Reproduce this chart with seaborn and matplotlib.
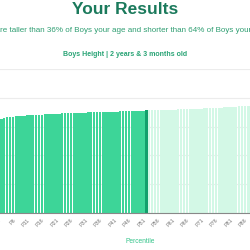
import matplotlib
matplotlib.use("Agg")
import matplotlib.pyplot as plt
import seaborn as sns
import pandas as pd

# ---- data ----
percentiles = [f"P{i}" for i in range(1, 100)]
heights = [
    81.1, 82.0, 82.6, 83.0, 83.4, 83.7, 83.9, 84.2, 84.4, 84.6,
    84.8, 84.9, 85.1, 85.2, 85.4, 85.5, 85.7, 85.8, 85.9, 86.0,
    86.1, 86.3, 86.4, 86.5, 86.6, 86.7, 86.8, 86.9, 87.0, 87.1,
    87.2, 87.3, 87.3, 87.4, 87.5, 87.6, 87.7, 87.8, 87.9, 88.0,
    88.0, 88.1, 88.2, 88.3, 88.4, 88.5, 88.6, 88.6, 88.7, 88.8,
    88.9, 89.0, 89.0, 89.1, 89.2, 89.3, 89.4, 89.5, 89.6, 89.6,
    89.7, 89.8, 89.9, 90.0, 90.1, 90.2, 90.3, 90.4, 90.5, 90.6,
    90.7, 90.8, 90.9, 91.0, 91.1, 91.3, 91.4, 91.5, 91.7, 91.8,
    92.0, 92.1, 92.3, 92.5, 92.6, 92.8, 93.0, 93.2, 93.4, 93.6,
    93.8, 94.0, 94.2, 94.5, 94.8, 95.1, 95.5, 96.0, 96.8,
]
highlight = "P52"
tick_labels = [f"P{i}" for i in range(1, 100, 5)]
y_ticks = [0, 25, 50, 75, 100, 125]

title = "Your Results"
subtitle = "You are taller than 36% of Boys your age and shorter than 64% of Boys your age."
chart_title = "Boys Height | 2 years & 3 months old"

# ---- styling ----
sns.set_theme(style="white")
plt.rcParams["font.family"] = ["Liberation Sans", "DejaVu Sans"]

c_below = "#3DD598"
c_above = "#D3F8E6"
c_mark = "#12A06C"
hi = percentiles.index(highlight)
colors = [c_below if i < hi else (c_mark if i == hi else c_above) for i in range(len(percentiles))]

df = pd.DataFrame({"pct": percentiles, "height": heights})

fig = plt.figure(figsize=(2.5, 2.5), dpi=100)
ax = fig.add_axes([-0.012, 0.148, 1.148, 0.576])

sns.barplot(data=df, x="pct", y="height", hue="pct", palette=colors,
            legend=False, width=0.86, saturation=1, ax=ax, zorder=2,
            edgecolor="none", linewidth=0)

ax.set_ylim(0, 125)
ax.set_yticks(y_ticks)
ax.yaxis.grid(True, color="#ECECEC", linewidth=0.8, zorder=0)
ax.set_axisbelow(True)
ax.tick_params(axis="y", left=False, labelleft=False)

ax.set_xticks([percentiles.index(t) for t in tick_labels])
ax.set_xticklabels(tick_labels, rotation=45, ha="right", rotation_mode="anchor",
                   fontsize=3.9, color="#777777")
ax.tick_params(axis="x", length=0, pad=3.5)
for s in ["top", "right", "left"]:
    ax.spines[s].set_visible(False)
ax.spines["bottom"].set_color("#888888")
ax.spines["bottom"].set_linewidth(0.8)
ax.set_ylabel("")
ax.set_xlabel("Percentile", fontsize=4.8, color="#34C48A", labelpad=7)

fig.text(0.5, 0.96, title, ha="center", va="center", fontsize=12.5,
         fontweight="bold", color="#1B7A5C")
fig.text(0.5, 0.876, subtitle, ha="center", va="center", fontsize=5.8,
         color="#2F9E72")
fig.text(0.5, 0.784, chart_title, ha="center", va="center", fontsize=5.0,
         fontweight="bold", color="#27A374")

fig.savefig("out.png", dpi=100)
